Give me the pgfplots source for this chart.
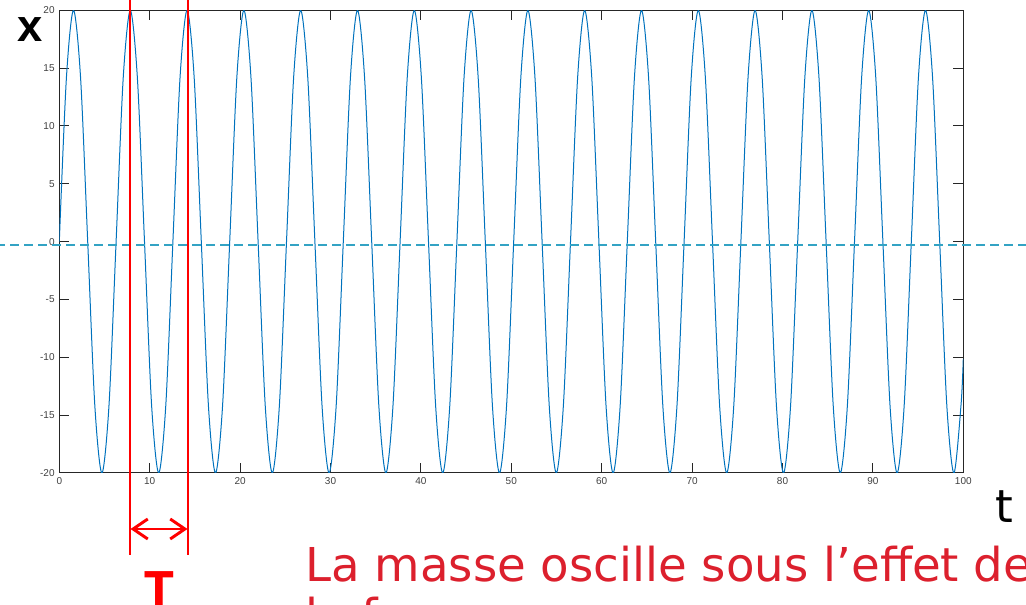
\documentclass[border=0pt]{standalone}
\usepackage{pgfplots}
\pgfplotsset{compat=1.18}
\usepackage{fontspec}
\setmainfont{DejaVu Sans}
\newfontfamily\tickfont{Liberation Sans}
\newfontfamily\calfont{Carlito}
\usetikzlibrary{arrows.meta}
\definecolor{mblue}{RGB}{0,114,189}
\definecolor{dashc}{RGB}{51,163,196}
\definecolor{txtred}{RGB}{220,32,45}
\definecolor{tickgray}{RGB}{64,64,64}
\definecolor{axgray}{RGB}{38,38,38}
\begin{document}
\begin{tikzpicture}[x=0.75pt,y=0.75pt]
\useasboundingbox (0,0) rectangle (1026,605);
\clip (0,0) rectangle (1026,605);
\begin{axis}[
  at={(44.475pt,99pt)}, anchor=south west,
  width=678pt, height=347pt, scale only axis,
  xmin=0, xmax=100, ymin=-20, ymax=20,
  xtick={0,10,...,100}, ytick={-20,-15,...,20},
  tick align=inside, major tick length=7.5pt,
  xtick pos=both, ytick pos=both,
  axis line style={draw=axgray, line width=0.75pt},
  every tick/.style={draw=axgray, line width=0.75pt},
  tick label style={font=\tickfont\fontsize{7.5}{9}\selectfont, text=tickgray},
  /pgf/number format/assume math mode=true,
]
\addplot[mblue, line width=0.75pt, smooth] coordinates {
(0,0) (0.785,14.14) (1.571,20) (2.356,14.14) (3.142,0) (3.927,-14.14) (4.712,-20) (5.498,-14.14)
(6.283,0) (7.069,14.14) (7.854,20) (8.639,14.14) (9.425,0) (10.210,-14.14) (10.996,-20) (11.781,-14.14)
(12.566,0) (13.352,14.14) (14.137,20) (14.923,14.14) (15.708,0) (16.493,-14.14) (17.279,-20) (18.064,-14.14)
(18.850,0) (19.635,14.14) (20.420,20) (21.206,14.14) (21.991,0) (22.777,-14.14) (23.562,-20) (24.347,-14.14)
(25.133,0) (25.918,14.14) (26.704,20) (27.489,14.14) (28.274,0) (29.060,-14.14) (29.845,-20) (30.631,-14.14)
(31.416,0) (32.201,14.14) (32.987,20) (33.772,14.14) (34.558,0) (35.343,-14.14) (36.128,-20) (36.914,-14.14)
(37.699,0) (38.485,14.14) (39.270,20) (40.055,14.14) (40.841,0) (41.626,-14.14) (42.412,-20) (43.197,-14.14)
(43.982,0) (44.768,14.14) (45.553,20) (46.339,14.14) (47.124,0) (47.909,-14.14) (48.695,-20) (49.480,-14.14)
(50.265,0) (51.051,14.14) (51.836,20) (52.622,14.14) (53.407,0) (54.193,-14.14) (54.978,-20) (55.763,-14.14)
(56.549,0) (57.334,14.14) (58.119,20) (58.905,14.14) (59.690,0) (60.476,-14.14) (61.261,-20) (62.046,-14.14)
(62.832,0) (63.617,14.14) (64.403,20) (65.188,14.14) (65.973,0) (66.759,-14.14) (67.544,-20) (68.330,-14.14)
(69.115,0) (69.900,14.14) (70.686,20) (71.471,14.14) (72.257,0) (73.042,-14.14) (73.827,-20) (74.613,-14.14)
(75.398,0) (76.184,14.14) (76.969,20) (77.754,14.14) (78.540,0) (79.325,-14.14) (80.111,-20) (80.896,-14.14)
(81.681,0) (82.467,14.14) (83.252,20) (84.038,14.14) (84.823,0) (85.608,-14.14) (86.394,-20) (87.179,-14.14)
(87.965,0) (88.750,14.14) (89.535,20) (90.321,14.14) (91.106,0) (91.892,-14.14) (92.677,-20) (93.462,-14.14)
(94.248,0) (95.033,14.14) (95.819,20) (96.604,14.14) (97.389,0) (98.175,-14.14) (98.960,-20) (99.746,-14.14)
(100,-10.13)
};
\end{axis}
% dashed reference line
\draw[dashc, line width=1.5pt, dash pattern=on 6.75pt off 3.75pt, dash phase=3pt] (0,360) -- (1026,360);
% red period markers
\draw[red, line width=1.5pt] (130,610) -- (130,50);
\draw[red, line width=1.5pt] (188,610) -- (188,50);
\draw[red, line width=2.2pt, {Straight Barb[length=11pt,width=15pt]}-{Straight Barb[length=11pt,width=15pt]}] (130.5,76) -- (187.5,76);
\node[red, font=\calfont\bfseries\fontsize{45}{50}\selectfont, anchor=base, inner sep=0] at (159,-6) {T};
% axis letters
\node[black, font=\tickfont\bfseries\fontsize{34}{40}\selectfont, anchor=base, inner sep=0] at (30.5,563) {x};
\node[black, font=\fontsize{34}{40}\selectfont, anchor=base, inner sep=0] at (1004.5,82) {t};
% red caption
\node[txtred, font=\fontsize{35}{42}\selectfont, anchor=base west, inner sep=0] at (305,23) {La masse oscille sous l’effet de};
\node[txtred, font=\fontsize{35}{42}\selectfont, anchor=base west, inner sep=0] at (305,-28) {la force};
\end{tikzpicture}
\end{document}
